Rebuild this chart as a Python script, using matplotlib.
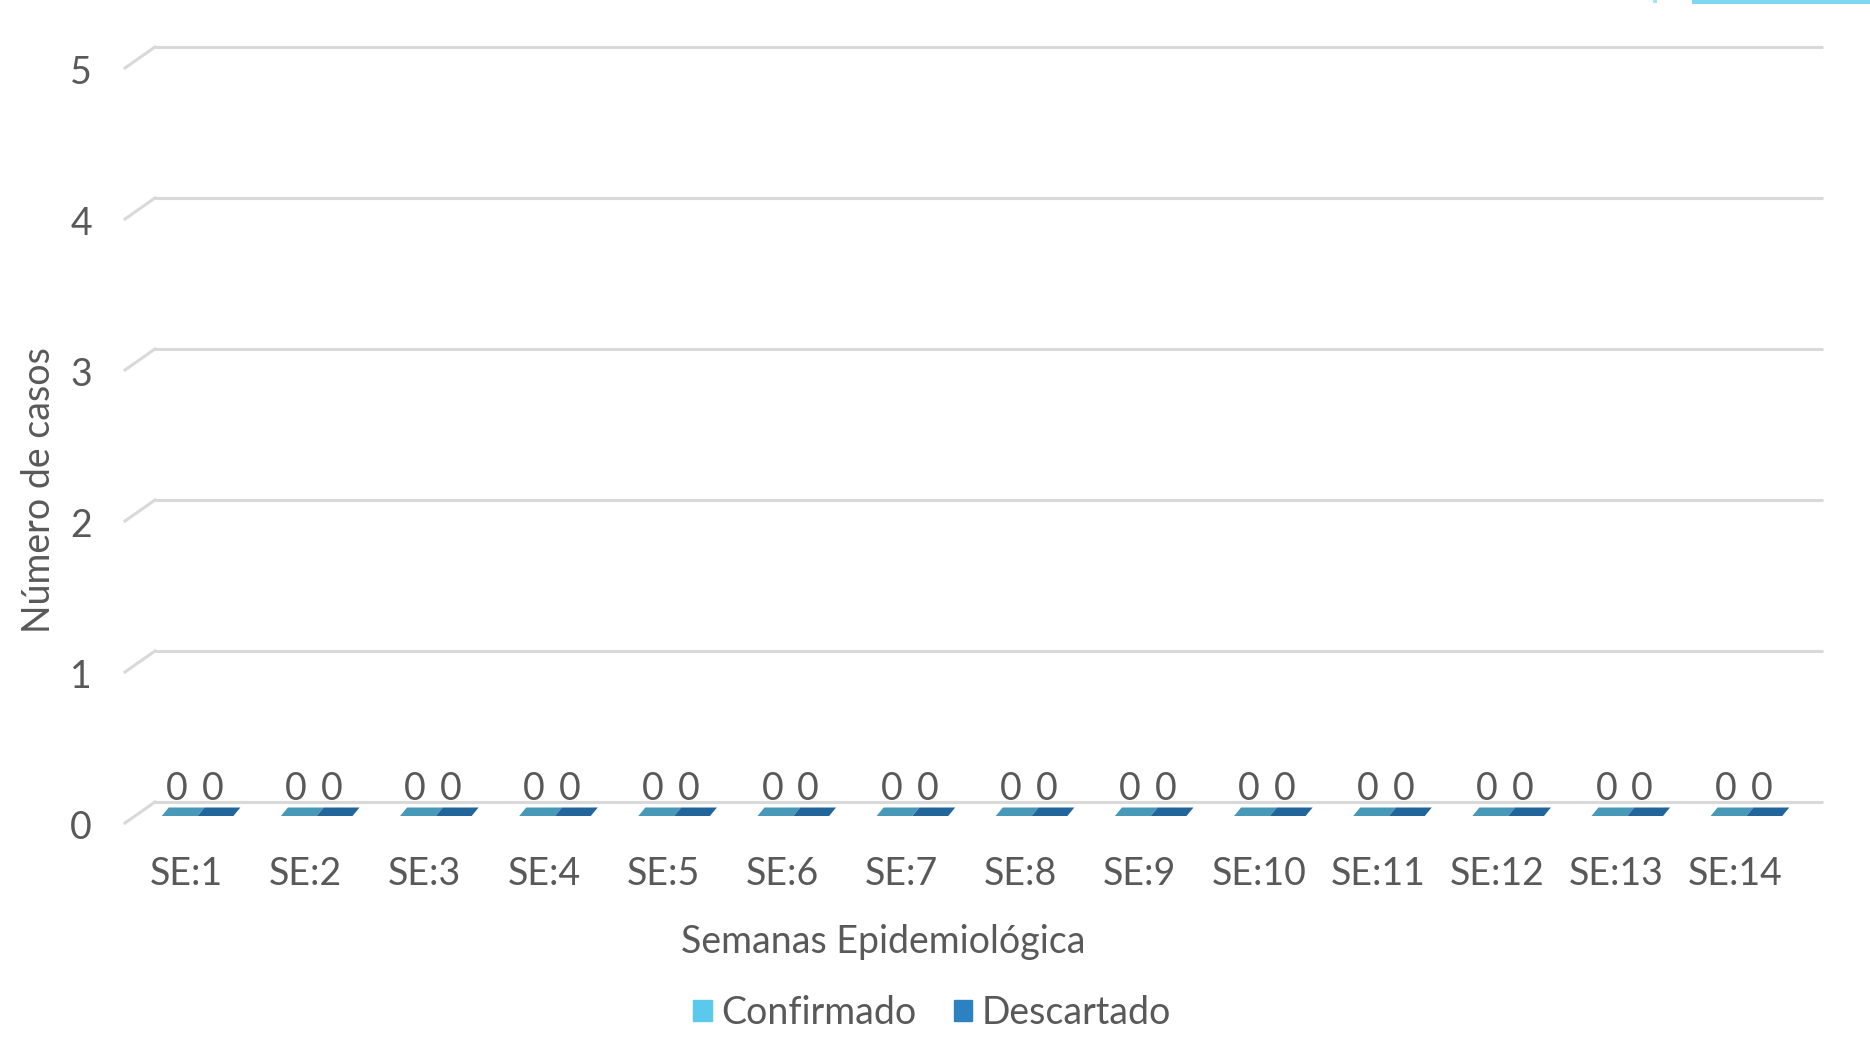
import matplotlib
matplotlib.use("Agg")
import matplotlib.pyplot as plt
from matplotlib.patches import Polygon, Rectangle
from matplotlib.transforms import blended_transform_factory
import numpy as np

weeks = ['SE:1', 'SE:2', 'SE:3', 'SE:4', 'SE:5', 'SE:6', 'SE:7',
         'SE:8', 'SE:9', 'SE:10', 'SE:11', 'SE:12', 'SE:13', 'SE:14']
confirmado = [0, 0, 0, 0, 0, 0, 0, 0, 0, 0, 0, 0, 0, 0]
descartado = [0, 0, 0, 0, 0, 0, 0, 0, 0, 0, 0, 0, 0, 0]
series_names = ['Confirmado', 'Descartado']
yticks = [0, 1, 2, 3, 4, 5]

W, H = 1870, 1037
TXT = '#595959'
GRID = '#d9d9d9'
plt.rcParams['font.family'] = ['Lato', 'DejaVu Sans']
FS = 27

fig = plt.figure(figsize=(W / 100, H / 100), dpi=100)
# front plane of the pseudo-3d chart (pixels)
left, right, y0, y5 = 125, 1793, 823, 68
ax = fig.add_axes([left / W, (H - y0) / H, (right - left) / W, (y0 - y5) / H])
n = len(weeks)
ax.set_xlim(-0.5, n - 0.5)
ax.set_ylim(0, 5)
ax.axis('off')

# pixel -> data units
ux = (right - left) / n
uy = (y0 - y5) / 5.0
dep_x, dep_y = 30 / ux, 21 / uy  # depth of the floor / back wall

# back wall gridlines + left diagonals
for v in yticks:
    ax.plot([-0.5 + dep_x, n - 0.5 + dep_x], [v + dep_y, v + dep_y],
            color=GRID, lw=2.2, clip_on=False, solid_capstyle='butt')
    ax.plot([-0.5, -0.5 + dep_x], [v, v + dep_y], color=GRID, lw=2.2,
            clip_on=False)

# bars (only the top face is visible when value is 0)
x = np.arange(n)
bw = 71.6 / ux / 2
top_cols = ['#4899b8', '#22659b']
fx0, fy0 = 13 / ux, 7 / uy     # front edge of bar top
fx1, fy1 = 20 / ux, 15.5 / uy  # back edge of bar top
for k, vals in enumerate([confirmado, descartado]):
    for xi, v in zip(x, vals):
        xl = xi - bw + k * bw
        xr = xl + bw
        poly = Polygon([(xl + fx0, v + fy0), (xr + fx0, v + fy0),
                        (xr + fx1, v + fy1), (xl + fx1, v + fy1)],
                       closed=True, facecolor=top_cols[k], edgecolor='none',
                       clip_on=False)
        ax.add_patch(poly)
        # data label
        ax.annotate(str(v), xy=(xi - bw / 2 + k * bw + 10 / ux, v),
                    xytext=(0, (y0 - 800) * 0.72), textcoords='offset points',
                    ha='center', va='baseline', fontsize=FS, color=TXT)

# y tick labels
for v in yticks:
    ax.annotate(str(v), xy=(-0.5, v), xytext=(-33 * 0.72, -16 * 0.72),
                textcoords='offset points', ha='right', va='baseline',
                fontsize=FS, color=TXT)

# x tick labels
tr = blended_transform_factory(ax.transData, fig.transFigure)
for xi, lab in zip(x, weeks):
    ax.text(xi + 2 / ux, (H - 885) / H, lab, transform=tr, ha='center',
            va='baseline', fontsize=FS, color=TXT)

fig.text(883 / W, (H - 953) / H, 'Semanas Epidemiológica', ha='center',
         va='baseline', fontsize=FS, color=TXT)
fig.text(50 / W, (H - 490) / H, 'Número de casos', rotation=90,
         rotation_mode='anchor', ha='center', va='baseline', fontsize=FS,
         color=TXT)

# legend
handles = [Rectangle((0, 0), 1, 1, color='#5bc8ee'),
           Rectangle((0, 0), 1, 1, color='#2e81c1')]
fig.legend(handles, series_names, loc='center', ncol=2,
           bbox_to_anchor=(932 / W, (H - 1013) / H), frameon=False,
           fontsize=FS, labelcolor=TXT, handlelength=0.5, handleheight=0.5,
           handletextpad=0.25, columnspacing=1.0, borderpad=0)

# decorative strip at top right
fig.add_artist(Rectangle((1692 / W, (H - 4) / H), (W - 1692) / W, 4 / H,
                         transform=fig.transFigure, color='#7fd6ef', lw=0))
fig.add_artist(Rectangle((1653 / W, (H - 3) / H), 4 / W, 3 / H,
                         transform=fig.transFigure, color='#a6e2f4', lw=0))

fig.savefig('out.png', dpi=100)
